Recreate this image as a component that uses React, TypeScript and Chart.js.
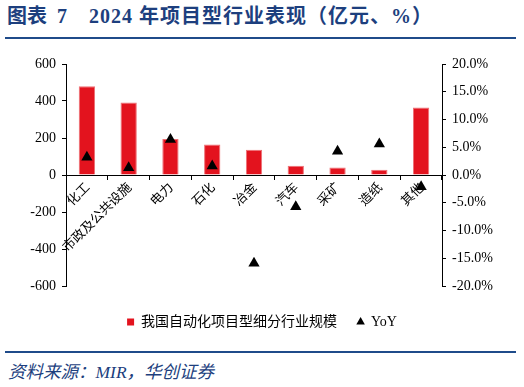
import React, { useEffect, useRef } from "react";
import { Chart, registerables } from "chart.js";

Chart.register(...registerables);

const categories = ["化工", "市政及公共设施", "电力", "石化", "冶金", "汽车", "采矿", "造纸", "其他"];
const scaleValues = [480, 392, 195, 165, 137, 50, 40, 29, 365];
const yoyValues = [3.2, 1.3, 6.4, 1.6, -15.9, -5.7, 4.3, 5.6, -2.1];
const barLabel = "我国自动化项目型细分行业规模";
const yoyLabel = "YoY";
const titleText = "2024 年项目型行业表现（亿元、%）";
const sourceText = "资料来源：MIR，华创证券";

const SERIF = '"Liberation Serif", "Noto Sans CJK SC", serif';
const CJK = '"Noto Sans CJK SC", "Liberation Serif", sans-serif';
const BLUE = "#1D3F7E";

export default function App() {
  const canvasRef = useRef<HTMLCanvasElement | null>(null);

  useEffect(() => {
    const ctx = canvasRef.current!.getContext("2d")!;
    const chart = new Chart(ctx, {
      type: "bar",
      data: {
        labels: categories,
        datasets: [
          {
            type: "line",
            label: yoyLabel,
            data: yoyValues,
            yAxisID: "y1",
            showLine: false,
            pointStyle: "triangle",
            pointRadius: 6.5,
            pointBackgroundColor: "#000",
            pointBorderColor: "#000",
            pointBorderWidth: 0,
            backgroundColor: "#000",
            borderColor: "#000",
            order: 0,
          } as any,
          {
            type: "bar",
            label: barLabel,
            data: scaleValues,
            yAxisID: "y",
            backgroundColor: "#E3131E",
            borderColor: "#EE7075",
            borderWidth: 1,
            barPercentage: 0.39,
            categoryPercentage: 1,
            order: 1,
          } as any,
        ],
      },
      options: {
        animation: false,
        responsive: false,
        maintainAspectRatio: false,
        layout: { padding: { top: 19, left: 0, right: 0, bottom: 6 } },
        plugins: {
          tooltip: { enabled: false },
          legend: {
            position: "bottom",
            reverse: false,
            labels: {
              usePointStyle: true,
              boxWidth: 7,
              boxHeight: 7,
              padding: 20,
              color: "#000",
              font: { family: SERIF, size: 14 },
              generateLabels: (c: any) => {
                const items = (Chart.defaults.plugins.legend.labels as any).generateLabels(c);
                items.forEach((it: any) => {
                  it.lineWidth = 0;
                  if (it.datasetIndex === 1) {
                    it.pointStyle = "rect";
                    it.fillStyle = "#E3131E";
                  } else {
                    it.pointStyle = "triangle";
                    it.fillStyle = "#000";
                  }
                });
                items.sort((a: any, b: any) => b.datasetIndex - a.datasetIndex);
                return items;
              },
            },
          },
        },
        scales: {
          x: {
            position: { y: 0 } as any,
            offset: true,
            grid: {
              offset: true,
              drawOnChartArea: false,
              drawTicks: true,
              tickLength: 4,
              color: "#000",
            },
            border: { display: true, color: "#000", width: 1 },
            ticks: {
              autoSkip: false,
              maxRotation: 45,
              minRotation: 45,
              padding: 0,
              color: "#000",
              font: { family: CJK, size: 13 },
            },
          },
          xGap: {
            type: "linear",
            axis: "x",
            position: "bottom",
            min: 0,
            max: 1,
            display: true,
            ticks: { display: false },
            grid: { display: false, drawTicks: false },
            border: { display: false },
            afterFit: (s: any) => {
              s.height = 9;
            },
          } as any,
          y: {
            position: "left",
            min: -600,
            max: 600,
            ticks: {
              stepSize: 200,
              color: "#000",
              padding: 6,
              font: { family: SERIF, size: 14 },
            },
            grid: {
              drawOnChartArea: false,
              drawTicks: true,
              tickLength: 4,
              color: "#000",
            },
            border: { display: true, color: "#000", width: 1 },
            afterFit: (s: any) => {
              s.width = 66;
            },
          },
          y1: {
            position: "right",
            min: -20,
            max: 20,
            ticks: {
              stepSize: 5,
              color: "#000",
              padding: 6,
              font: { family: SERIF, size: 14 },
              callback: (v: any) => Number(v).toFixed(1) + "%",
            },
            grid: {
              drawOnChartArea: false,
              drawTicks: true,
              tickLength: 4,
              color: "#000",
            },
            border: { display: true, color: "#000", width: 1 },
            afterFit: (s: any) => {
              s.width = 82;
            },
          },
        },
      },
    });
    return () => chart.destroy();
  }, []);

  return (
    <div
      style={{
        position: "absolute",
        left: 0,
        top: 0,
        width: 524,
        height: 387,
        background: "#fff",
        overflow: "hidden",
      }}
    >
      <div
        style={{
          position: "absolute",
          left: 7,
          top: 4,
          whiteSpace: "nowrap",
          fontFamily: SERIF,
          fontWeight: "bold",
          fontSize: 20,
          lineHeight: "24px",
          color: BLUE,
        }}
      >
        <span>图表</span>
        <span style={{ marginLeft: 10 }}>7</span>
        <span style={{ marginLeft: 22, letterSpacing: 1 }}>{titleText}</span>
      </div>
      <div style={{ position: "absolute", left: 5, top: 37, width: 511, height: 2, background: "#1F4B8A" }} />
      <canvas
        ref={canvasRef}
        width={524}
        height={300}
        style={{ position: "absolute", left: 0, top: 45, width: 524, height: 300 }}
      />
      <div style={{ position: "absolute", left: 5, top: 351, width: 511, height: 2, background: "#1F4B8A" }} />
      <div
        style={{
          position: "absolute",
          left: 8,
          top: 361,
          whiteSpace: "nowrap",
          fontFamily: SERIF,
          fontStyle: "italic",
          fontSize: 17.5,
          lineHeight: "22px",
          color: BLUE,
        }}
      >
        {sourceText}
      </div>
    </div>
  );
}
